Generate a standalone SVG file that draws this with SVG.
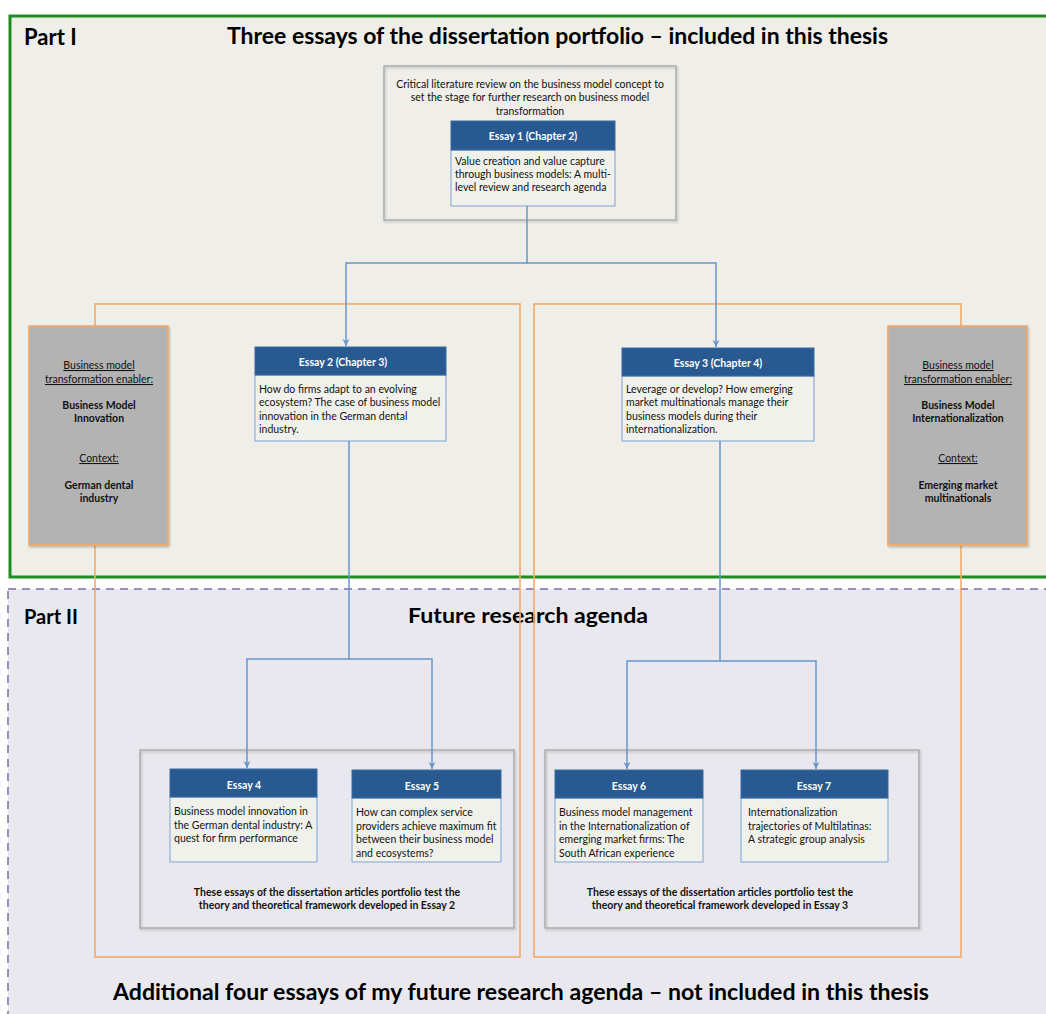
<svg xmlns="http://www.w3.org/2000/svg" width="1046" height="1014" viewBox="0 0 1046 1014">
<defs>
<style>
.t{font-family:Lato,"Liberation Sans",sans-serif;font-size:10.5px;fill:#111}
.c{text-anchor:middle}
.b{font-weight:bold}
.u{text-decoration:underline}
.h{font-family:Lato,"Liberation Sans",sans-serif;font-size:10.5px;font-weight:bold;fill:#fff;text-anchor:middle}
.big{font-family:Lato,"Liberation Sans",sans-serif;font-weight:bold;fill:#000}
.hdr{fill:#285a91;stroke:#3a6aa3;stroke-width:1}
.body{fill:#f1f1ec;stroke:#8fb1d8;stroke-width:1.2}
.gbox{fill:none;stroke:#a5a5a8;stroke-width:1.3}
.orange{fill:none;stroke:#f0aa6c;stroke-width:1.6}
.enab{fill:#b3b3b3;stroke:#f0aa6c;stroke-width:1.6}
.con{fill:none;stroke:#6a95cc;stroke-width:1.5}
</style>
<marker id="ar" markerWidth="8" markerHeight="8" refX="7" refY="4" orient="auto" markerUnits="userSpaceOnUse" viewBox="0 0 8 8">
<path d="M0,0.5 L7,4 L0,7.5 L2,4 Z" fill="#6a95cc"/>
</marker>
<filter id="sh" x="-5%" y="-5%" width="115%" height="115%"><feDropShadow dx="1" dy="1.5" stdDeviation="1" flood-color="#000" flood-opacity="0.25"/></filter>
</defs>

<g id="part1">
<rect x="10" y="16" width="1040" height="561" fill="#efeee8" stroke="#1f8c1f" stroke-width="3"/>
<text class="big" x="24" y="45" font-size="22">Part I</text>
<text class="big" x="227" y="44" font-size="23" textLength="661" lengthAdjust="spacingAndGlyphs">Three essays of the dissertation portfolio – included in this thesis</text>
</g>

<g id="part2">
<rect x="8" y="589" width="1045" height="430" fill="#e9e8ee" stroke="#9d8bbb" stroke-width="2" stroke-dasharray="8,6"/>
<text class="big" x="24" y="624" font-size="20">Part II</text>
<text class="big" x="408" y="623" font-size="20" textLength="240" lengthAdjust="spacingAndGlyphs">Future research agenda</text>
<text class="big" x="113" y="1000" font-size="22" textLength="816" lengthAdjust="spacingAndGlyphs">Additional four essays of my future research agenda – not included in this thesis</text>
</g>

<g id="groupLeft"><rect class="orange" x="95" y="304" width="425" height="653"/></g>
<g id="groupRight"><rect class="orange" x="534" y="304" width="427" height="653"/></g>

<g id="essay1group">
<rect class="gbox" x="384" y="66" width="292" height="154" fill="#efeee8" filter="url(#sh)"/>
<text class="t c" x="530" y="88">Critical literature review on the business model concept to</text>
<text class="t c" x="530" y="101">set the stage for further research on business model</text>
<text class="t c" x="530" y="115">transformation</text>
</g>
<g id="essay1">
<rect class="body" x="451" y="150" width="164" height="56"/>
<rect class="hdr" x="451" y="121" width="164" height="29"/>
<text class="h" x="533" y="140">Essay 1 (Chapter 2)</text>
<text class="t" x="455" y="165">Value creation and value capture</text>
<text class="t" x="455" y="178">through business models: A multi-</text>
<text class="t" x="455" y="191">level review and research agenda</text>
</g>

<g id="enablerLeft">
<rect class="enab" x="29" y="326" width="139" height="219" filter="url(#sh)"/>
<text class="t c u" x="99" y="369">Business model</text>
<text class="t c u" x="99" y="383">transformation enabler:</text>
<text class="t c b" x="99" y="409">Business Model</text>
<text class="t c b" x="99" y="422">Innovation</text>
<text class="t c u" x="99" y="462">Context:</text>
<text class="t c b" x="99" y="489">German dental</text>
<text class="t c b" x="99" y="502">industry</text>
</g>

<g id="enablerRight">
<rect class="enab" x="888" y="326" width="139" height="219" filter="url(#sh)"/>
<text class="t c u" x="958" y="369">Business model</text>
<text class="t c u" x="958" y="383">transformation enabler:</text>
<text class="t c b" x="958" y="409">Business Model</text>
<text class="t c b" x="958" y="422">Internationalization</text>
<text class="t c u" x="958" y="462">Context:</text>
<text class="t c b" x="958" y="489">Emerging market</text>
<text class="t c b" x="958" y="502">multinationals</text>
</g>

<g id="essay2">
<rect class="body" x="255" y="375" width="191" height="66"/>
<rect class="hdr" x="255" y="347" width="191" height="28"/>
<text class="h" x="343" y="366">Essay 2 (Chapter 3)</text>
<text class="t" x="259" y="393">How do firms adapt to an evolving</text>
<text class="t" x="259" y="406">ecosystem? The case of business model</text>
<text class="t" x="259" y="420">innovation in the German dental</text>
<text class="t" x="259" y="433">industry.</text>
</g>

<g id="essay3">
<rect class="body" x="622" y="376" width="192" height="65"/>
<rect class="hdr" x="622" y="348" width="192" height="28"/>
<text class="h" x="718" y="367">Essay 3 (Chapter 4)</text>
<text class="t" x="626" y="393">Leverage or develop? How emerging</text>
<text class="t" x="626" y="406">market multinationals manage their</text>
<text class="t" x="626" y="420">business models during their</text>
<text class="t" x="626" y="433">internationalization.</text>
</g>

<g id="testLeft">
<rect class="gbox" x="140" y="750" width="374" height="178" filter="url(#sh)"/>
<text class="t c b" x="327" y="896" font-size="9.5">These essays of the dissertation articles portfolio test the</text>
<text class="t c b" x="327" y="909" font-size="9.5">theory and theoretical framework developed in Essay 2</text>
</g>
<g id="testRight">
<rect class="gbox" x="545" y="750" width="374" height="178" filter="url(#sh)"/>
<text class="t c b" x="720" y="896" font-size="9.5">These essays of the dissertation articles portfolio test the</text>
<text class="t c b" x="720" y="909" font-size="9.5">theory and theoretical framework developed in Essay 3</text>
</g>

<g id="essay4">
<rect class="body" x="170" y="797" width="147" height="65"/>
<rect class="hdr" x="170" y="769" width="147" height="28"/>
<text class="h" x="244" y="789">Essay 4</text>
<text class="t" x="174" y="815">Business model innovation in</text>
<text class="t" x="174" y="829">the German dental industry: A</text>
<text class="t" x="174" y="842">quest for firm performance</text>
</g>
<g id="essay5">
<rect class="body" x="352" y="798" width="149" height="64"/>
<rect class="hdr" x="352" y="770" width="149" height="28"/>
<text class="h" x="422" y="790">Essay 5</text>
<text class="t" x="356" y="816">How can complex service</text>
<text class="t" x="356" y="830">providers achieve maximum fit</text>
<text class="t" x="356" y="843">between their business model</text>
<text class="t" x="356" y="857">and ecosystems?</text>
</g>
<g id="essay6">
<rect class="body" x="555" y="798" width="148" height="64"/>
<rect class="hdr" x="555" y="770" width="148" height="28"/>
<text class="h" x="629" y="790">Essay 6</text>
<text class="t" x="559" y="816">Business model management</text>
<text class="t" x="559" y="830">in the Internationalization of</text>
<text class="t" x="559" y="843">emerging market firms: The</text>
<text class="t" x="559" y="857">South African experience</text>
</g>
<g id="essay7">
<rect class="body" x="741" y="798" width="147" height="64"/>
<rect class="hdr" x="741" y="770" width="147" height="28"/>
<text class="h" x="814" y="790">Essay 7</text>
<text class="t" x="748" y="816">Internationalization</text>
<text class="t" x="748" y="830">trajectories of Multilatinas:</text>
<text class="t" x="748" y="843">A strategic group analysis</text>
</g>

<g id="connectors">
<path class="con" d="M527,206 V263 H346 V346" marker-end="url(#ar)"/>
<path class="con" d="M527,263 H716 V347" marker-end="url(#ar)"/>
<path class="con" d="M349,441 V659 H247 V768" marker-end="url(#ar)"/>
<path class="con" d="M349,659 H432 V769" marker-end="url(#ar)"/>
<path class="con" d="M720,441 V661 H627 V769" marker-end="url(#ar)"/>
<path class="con" d="M720,661 H816 V769" marker-end="url(#ar)"/>
</g>
</svg>
